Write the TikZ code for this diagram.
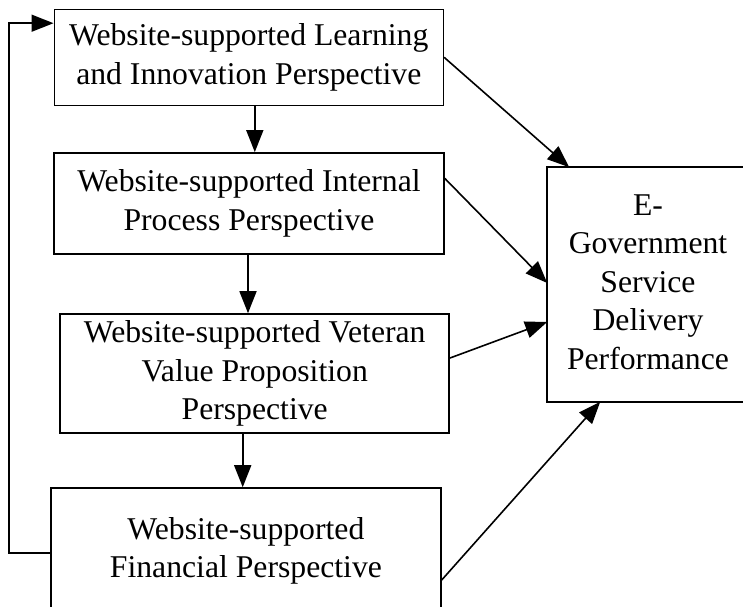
\documentclass[tikz,border=0pt]{standalone}
\usepackage{fontspec}
\setmainfont{Liberation Serif}
\usetikzlibrary{arrows.meta}
\begin{document}
\begin{tikzpicture}[x=1pt,y=-1pt,
  box/.style={draw, line width=1.6pt, inner sep=0pt, align=center,
    font=\fontsize{31.7}{38.5}\selectfont},
  openbox/.style={box, draw=none},
  arr/.style={line width=1.6pt, -{Triangle[length=22pt,width=17pt]}}]
\useasboundingbox (0,0) rectangle (743,606);
\clip (0,0) rectangle (743,606);
\node[box, minimum width=389pt, minimum height=96pt] (b1) at (248.8,57.3)
  {Website-supported Learning\\and Innovation Perspective};
\node[box, minimum width=390pt, minimum height=101pt] (b2) at (249,203.4)
  {Website-supported Internal\\Process Perspective};
\node[box, minimum width=389pt, minimum height=119pt] (b3) at (254.7,373.5)
  {Website-supported Veteran\\Value Proposition\\Perspective};
\node[box, minimum width=390pt, minimum height=126pt] (b4) at (245.9,551)
  {Website-supported\\Financial Perspective};
\node[openbox, minimum width=224pt, minimum height=233pt, align=left] (r) at (660,284.5)
  {\hspace*{-24pt}\raisebox{-4pt}{\begin{tabular}{@{}c@{}}E-\\Government\\Service\\Delivery\\Performance\end{tabular}}};
\draw[line width=1.6pt] (r.north east) -- (r.north west) -- (r.south west) -- (r.south east);
\coordinate (fb) at (9,300);
\draw[arr] ([xshift=6pt]b1.south) -- ([xshift=6pt]b1.south |- b2.north);
\draw[arr] ([xshift=-1pt]b2.south) -- ([xshift=-1pt]b2.south |- b3.north);
\draw[arr] ([xshift=-12pt]b3.south) -- ([xshift=-12pt]b3.south |- b4.north);
\draw[arr] (b1.east) -- ([xshift=22pt]r.north west);
\draw[arr] ([yshift=25pt]b2.east) -- ([yshift=1.5pt]r.west);
\draw[arr] ([yshift=15.5pt]b3.east) -- ([yshift=-37.5pt]r.west);
\draw[arr] ([yshift=-29pt]b4.east) -- ([xshift=53pt]r.south west);
\draw[arr] ([yshift=-2pt]b4.west) -| (fb) |- ([yshift=-14.7pt]b1.north west);
\end{tikzpicture}
\end{document}
